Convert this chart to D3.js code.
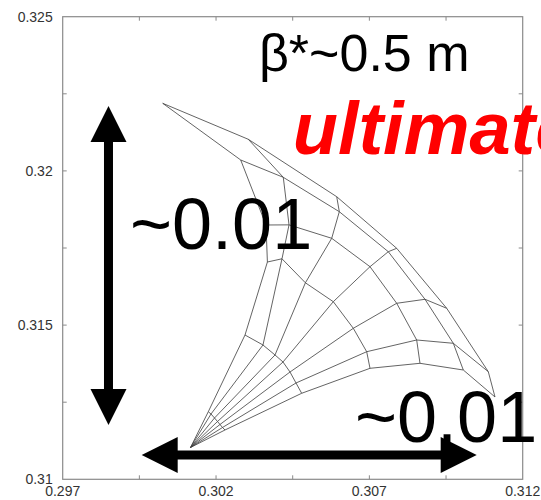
<!DOCTYPE html>
<html>
<head>
<meta charset="utf-8">
<script src="https://cdn.jsdelivr.net/npm/d3@7"></script>
<style>
  html, body { margin: 0; padding: 0; background: #fff; }
  svg { display: block; }
  text { font-family: "Liberation Sans", Arial, sans-serif; }
</style>
</head>
<body>
<svg id="chart" width="541" height="500"></svg>
<script>
// Axis ranges and ticks
const xDomain = [0.297, 0.312];
const yDomain = [0.31, 0.325];
const xTicks = [0.297, 0.2995, 0.302, 0.3045, 0.307, 0.3095, 0.312];
const yTicks = [0.31, 0.3125, 0.315, 0.3175, 0.32, 0.3225, 0.325];
const xTickLabels = ["0.297", "", "0.302", "", "0.307", "", "0.312"];
const yTickLabels = ["0.31", "", "0.315", "", "0.32", "", "0.325"];

// Tune footprint: zero-amplitude tune, then one row per amplitude ratio (angle),
// one entry per amplitude step (outermost last).
const qx0 = 0.301167, qy0 = 0.311031;
const qxAngle0 = [0.302292, 0.304793, 0.307021, 0.308651, 0.310063, 0.311097];
const qyAngle0 = [0.311599, 0.312789, 0.313599, 0.313761, 0.313544, 0.312669];
const qxAngle1 = [0.302211, 0.304608, 0.306913, 0.308543, 0.309737, 0.310878];
const qyAngle1 = [0.311680, 0.313123, 0.314137, 0.314517, 0.314410, 0.313489];
const qxAngle2 = [0.302129, 0.304412, 0.306476, 0.307891, 0.308814, 0.309522];
const qyAngle2 = [0.311777, 0.313479, 0.314896, 0.315707, 0.315837, 0.315545];
const qxAngle3 = [0.302048, 0.304184, 0.305824, 0.307021, 0.307617, 0.307891];
const qyAngle3 = [0.311874, 0.313804, 0.315759, 0.316894, 0.317380, 0.317490];
const qxAngle4 = [0.301950, 0.303923, 0.304914, 0.305772, 0.306020, 0.305935];
const qyAngle4 = [0.311988, 0.314031, 0.316372, 0.317815, 0.318677, 0.319163];
const qxAngle5 = [0.301836, 0.303531, 0.304151, 0.304380, 0.304193, 0.303052];
const qyAngle5 = [0.312117, 0.314355, 0.317150, 0.318250, 0.319792, 0.321025];
const qxAngle6 = [0.301748, 0.302945, 0.303675, 0.303629, 0.302804, 0.300261];
const qyAngle6 = [0.312192, 0.314679, 0.317046, 0.318246, 0.320354, 0.322192];

// Annotations
const spreadV = { x: 0.298493, y1: 0.311761, y2: 0.322105 };
const spreadH = { y: 0.310788, x1: 0.299576, x2: 0.310500 };
const labels = [
  { text: "β*~0.5 m", x: 0.30340, y: 0.32324, size: 52, weight: "normal", style: "normal", color: "#000" },
  { text: "ultimate", x: 0.30450, y: 0.320548, size: 74, weight: "bold", style: "italic", color: "#ff0000" },
  { text: "~0.01", x: 0.299195, y: 0.317458, size: 72, weight: "normal", style: "normal", color: "#000" },
  { text: "~0.01", x: 0.306532, y: 0.311219, size: 72, weight: "normal", style: "normal", color: "#000" }
];

const margin = { left: 62.7, right: 541 - 522.7, top: 16.7, bottom: 500 - 479.3 };
const W = 541, H = 500;
const svg = d3.select("#chart");

const x = d3.scaleLinear().domain(xDomain).range([margin.left, W - margin.right]);
const y = d3.scaleLinear().domain(yDomain).range([H - margin.bottom, margin.top]);

// Frame and inward ticks
const axisColor = "#8a8a8a";
const tickLen = 4;
const gAxes = svg.append("g");
gAxes.append("rect")
  .attr("x", x(xDomain[0])).attr("y", y(yDomain[1]))
  .attr("width", x(xDomain[1]) - x(xDomain[0]))
  .attr("height", y(yDomain[0]) - y(yDomain[1]))
  .attr("fill", "none").attr("stroke", axisColor).attr("stroke-width", 1.2);

const inner = xTicks.slice(1, -1);
gAxes.selectAll(".xtb").data(inner).join("line")
  .attr("x1", d => x(d)).attr("x2", d => x(d))
  .attr("y1", y(yDomain[0])).attr("y2", y(yDomain[0]) - tickLen)
  .attr("stroke", axisColor);
gAxes.selectAll(".xtt").data(inner).join("line")
  .attr("x1", d => x(d)).attr("x2", d => x(d))
  .attr("y1", y(yDomain[1])).attr("y2", y(yDomain[1]) + tickLen)
  .attr("stroke", axisColor);
const innerY = yTicks.slice(1, -1);
gAxes.selectAll(".ytl").data(innerY).join("line")
  .attr("y1", d => y(d)).attr("y2", d => y(d))
  .attr("x1", x(xDomain[0])).attr("x2", x(xDomain[0]) + tickLen)
  .attr("stroke", axisColor);
gAxes.selectAll(".ytr").data(innerY).join("line")
  .attr("y1", d => y(d)).attr("y2", d => y(d))
  .attr("x1", x(xDomain[1])).attr("x2", x(xDomain[1]) - tickLen)
  .attr("stroke", axisColor);

// Tick labels
gAxes.selectAll(".xl").data(xTicks.map((d, i) => ({ v: d, t: xTickLabels[i] })).filter(d => d.t))
  .join("text")
  .attr("x", d => x(d.v)).attr("y", y(yDomain[0]) + 17)
  .attr("text-anchor", "middle").attr("font-size", 14).attr("fill", "#333")
  .text(d => d.t);
gAxes.selectAll(".yl").data(yTicks.map((d, i) => ({ v: d, t: yTickLabels[i] })).filter(d => d.t))
  .join("text")
  .attr("x", x(xDomain[0]) - 10).attr("y", d => y(d.v) + 5)
  .attr("text-anchor", "end").attr("font-size", 14).attr("fill", "#333")
  .text(d => d.t);

// Footprint mesh
const qxRows = [qxAngle0, qxAngle1, qxAngle2, qxAngle3, qxAngle4, qxAngle5, qxAngle6];
const qyRows = [qyAngle0, qyAngle1, qyAngle2, qyAngle3, qyAngle4, qyAngle5, qyAngle6];
const line = d3.line().x(d => x(d[0])).y(d => y(d[1]));
const gMesh = svg.append("g").attr("fill", "none").attr("stroke", "#3c3c3c").attr("stroke-width", 0.8);

// lines of constant angle, starting at zero amplitude
const radials = qxRows.map((row, k) => [[qx0, qy0]].concat(row.map((v, j) => [v, qyRows[k][j]])));
gMesh.selectAll(".radial").data(radials).join("path").attr("d", line);

// lines of constant amplitude, across all angles
const nAmp = qxAngle0.length;
const rings = d3.range(nAmp).map(j => qxRows.map((row, k) => [row[j], qyRows[k][j]]));
gMesh.selectAll(".ring").data(rings).join("path").attr("d", line);

// Double arrows showing the tune spread
function arrow(g, x1, y1, x2, y2) {
  const head = 36, half = 18, shaft = 9;
  const ang = Math.atan2(y2 - y1, x2 - x1);
  const len = Math.hypot(x2 - x1, y2 - y1);
  const gg = g.append("g").attr("transform", `translate(${x1},${y1}) rotate(${ang * 180 / Math.PI})`);
  gg.append("rect").attr("x", head - 1).attr("y", -shaft / 2).attr("width", len - 2 * head + 2).attr("height", shaft).attr("fill", "#000");
  gg.append("path").attr("d", `M0,0 L${head},${-half} L${head},${half} Z`).attr("fill", "#000");
  gg.append("path").attr("d", `M${len},0 L${len - head},${-half} L${len - head},${half} Z`).attr("fill", "#000");
}
const gAnn = svg.append("g");
arrow(gAnn, x(spreadV.x), y(spreadV.y2), x(spreadV.x), y(spreadV.y1));
arrow(gAnn, x(spreadH.x1), y(spreadH.y), x(spreadH.x2), y(spreadH.y));

gAnn.selectAll(".lab").data(labels).join("text")
  .attr("x", d => x(d.x)).attr("y", d => y(d.y))
  .attr("font-size", d => d.size).attr("font-weight", d => d.weight)
  .attr("font-style", d => d.style).attr("fill", d => d.color)
  .text(d => d.text);
</script>
</body>
</html>
